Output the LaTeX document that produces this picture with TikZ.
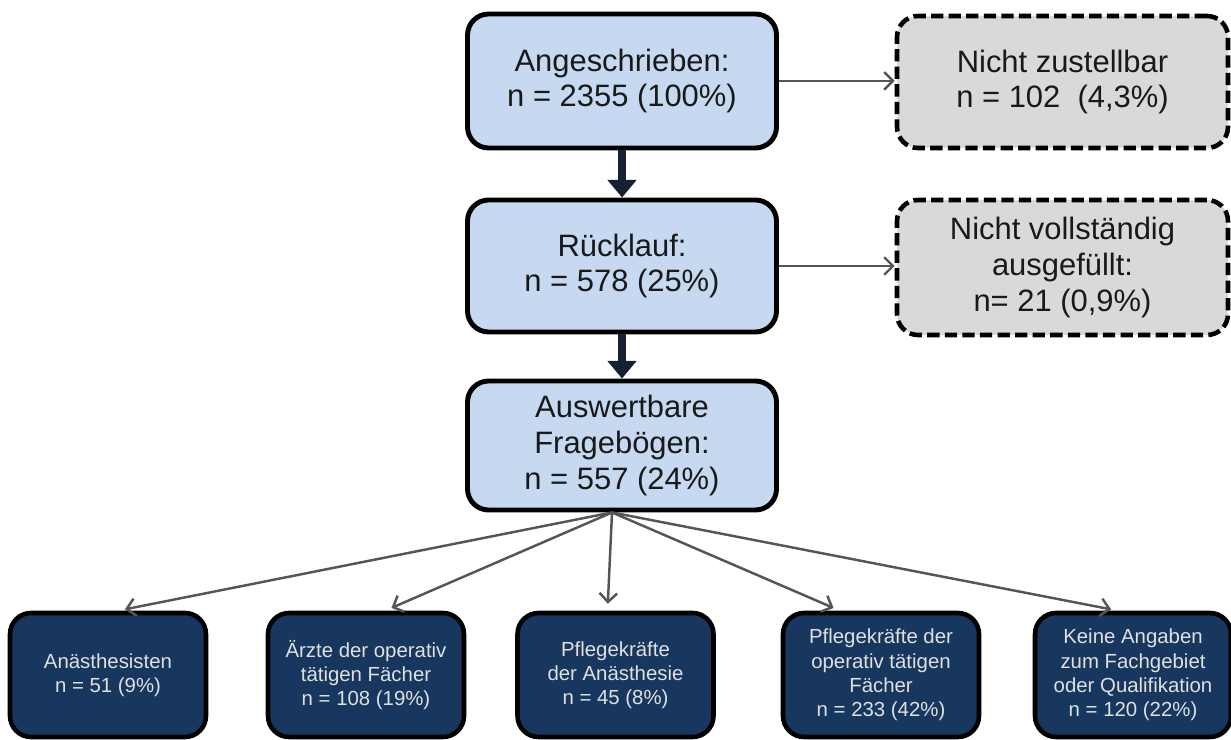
\documentclass[tikz,border=0pt]{standalone}
\usepackage{fontspec}
\setmainfont{Liberation Sans}
\usepackage{tikz}
\usetikzlibrary{arrows.meta,positioning}
\usepackage{xcolor}
\definecolor{boxblue}{RGB}{198,217,241}
\definecolor{boxgray}{RGB}{217,217,217}
\definecolor{navyfill}{RGB}{23,55,94}
\definecolor{darknavy}{RGB}{22,32,48}
\definecolor{linegray}{RGB}{85,85,85}

\begin{document}
\begin{tikzpicture}[
    mainbox/.style={draw=black, line width=1.4pt, fill=boxblue, rounded corners=6pt,
        minimum width=3.09cm, align=center, text=black!90,
        font=\fontsize{8.8}{10.2}\selectfont},
    dropbox/.style={draw=black, line width=1.3pt, dash pattern=on 3.5pt off 1.5pt,
        fill=boxgray, rounded corners=6pt, minimum width=3.31cm, align=center,
        text=black!90, font=\fontsize{8.8}{10.2}\selectfont},
    groupbox/.style={draw=black, line width=1.3pt, fill=navyfill, rounded corners=6pt,
        minimum width=1.96cm, minimum height=1.24cm, align=center, text=white!88!black,
        font=\fontsize{5.8}{6.9}\selectfont},
    mainarrow/.style={-{Triangle[width=8pt,length=5pt]}, line width=2.2pt, darknavy},
    sidearrow/.style={-{Straight Barb[length=2.5pt,width=5pt]}, line width=0.7pt, linegray},
]
    \useasboundingbox (0,0) rectangle (12.31,-7.40);

    % --- Main column ---
    \node[mainbox, minimum height=1.34cm] (ang) at (6.22,-0.81)
        {Angeschrieben:\\n = 2355 (100\%)};
    \node[mainbox, minimum height=1.32cm] (rueck) at (6.22,-2.66)
        {Rücklauf:\\n = 578 (25\%)};
    \node[mainbox, minimum height=1.29cm] (ausw) at (6.22,-4.455)
        {Auswertbare\\Fragebögen:\\n = 557 (24\%)};

    \draw[mainarrow] (ang.south) -- (rueck.north);
    \draw[mainarrow] (rueck.south) -- (ausw.north);

    % --- Drop-outs (dashed) ---
    \node[dropbox, minimum height=1.32cm] (nzu) at (10.625,-0.82)
        {Nicht zustellbar\\n = 102~~(4,3\%)};
    \node[dropbox, minimum height=1.35cm] (nvoll) at (10.625,-2.675)
        {Nicht vollständig\\ausgefüllt:\\n= 21 (0,9\%)};

    \draw[sidearrow] (ang.east) -- (ang.east -| nzu.west);
    \draw[sidearrow] (rueck.east) -- (rueck.east -| nvoll.west);

    % --- Subgroups ---
    \node[groupbox] (anae) at (1.08,-6.75) {Anästhesisten\\n = 51 (9\%)};
    \node[groupbox] (aerzte) at (3.66,-6.75) {Ärzte der operativ\\tätigen Fächer\\n = 108 (19\%)};
    \node[groupbox] (pflanae) at (6.155,-6.75) {Pflegekräfte\\der Anästhesie\\n = 45 (8\%)};
    \node[groupbox] (pflop) at (8.81,-6.75) {Pflegekräfte der\\operativ tätigen\\Fächer\\n = 233 (42\%)};
    \node[groupbox] (keine) at (11.33,-6.75) {Keine Angaben\\zum Fachgebiet\\oder Qualifikation\\n = 120 (22\%)};

    % Fan of arrows
    \foreach \g/\dx in {anae/0.1,aerzte/0.19,pflanae/-0.08,pflop/-0.41,keine/-0.15}{
        \draw[sidearrow, shorten >=2pt] ([xshift=-0.1cm]ausw.south) -- ([xshift=\dx cm]\g.north);
    }
\end{tikzpicture}
\end{document}
